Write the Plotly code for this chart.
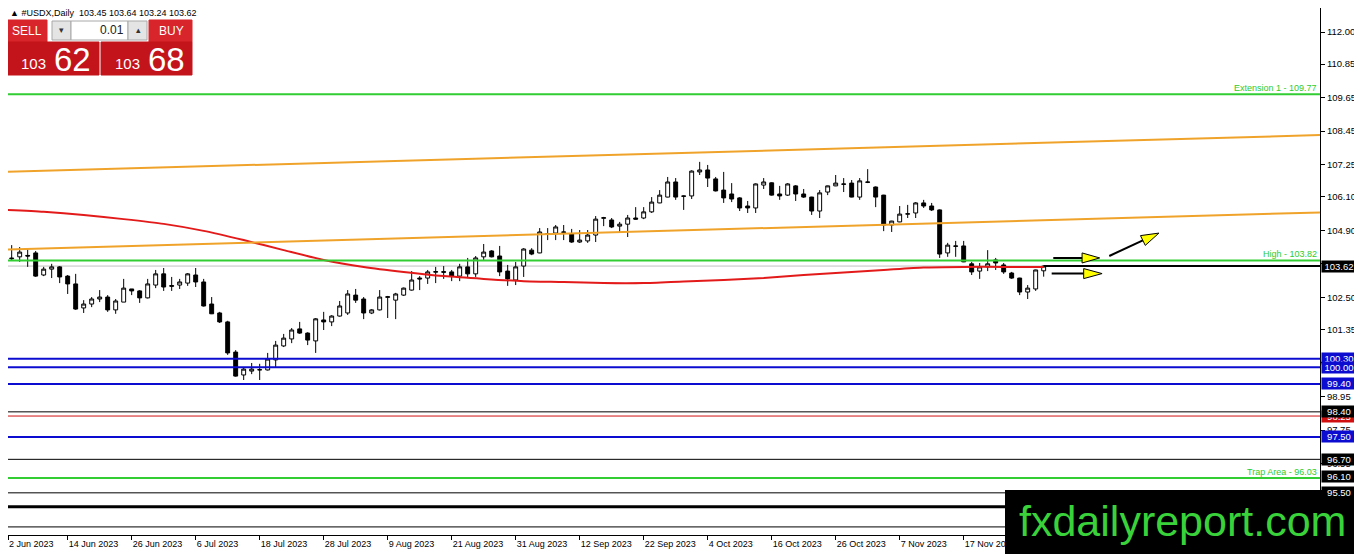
import pandas as pd
import plotly.graph_objects as go

# ---- data ----
dates = pd.bdate_range("2023-06-02", periods=131)

opens = [
    103.55, 103.88, 103.95, 104.00, 104.09, 103.30, 103.51, 103.59, 103.26, 102.98,
    102.12, 102.26, 102.44, 102.51, 102.05, 102.33, 102.80, 102.73, 102.48, 102.94,
    103.34, 102.92, 102.94, 103.01, 103.30, 103.05, 102.26, 101.94, 101.62, 100.54,
    99.72, 99.86, 99.90, 99.90, 100.26, 100.76, 101.01, 101.37, 101.22, 100.94,
    101.69, 101.62, 101.83, 101.94, 102.58, 102.44, 101.94, 102.05, 102.50, 102.40,
    102.58, 102.76, 103.19, 103.19, 103.40, 103.42, 103.41, 103.26, 103.59, 103.34,
    103.95, 104.16, 103.98, 103.44, 103.12, 103.62, 104.19, 104.09, 104.78, 104.80,
    104.84, 104.77, 104.48, 104.52, 104.73, 105.33, 105.27, 105.05, 105.12, 105.34,
    105.34, 105.56, 105.88, 106.09, 106.63, 106.13, 106.13, 106.99, 107.06, 106.74,
    106.34, 106.20, 106.06, 105.77, 105.70, 106.52, 106.60, 106.20, 106.16, 106.49,
    106.20, 106.09, 105.59, 106.27, 106.49, 106.56, 106.59, 106.09, 106.63, 106.45,
    106.16, 105.09, 105.20, 105.48, 105.52, 105.88, 105.77, 105.63, 104.09, 104.34,
    104.34, 103.70, 103.44, 103.59, 103.84, 103.66, 103.37, 103.19, 102.69, 102.80,
    103.45]
highs = [
    104.19, 104.37, 104.30, 104.26, 104.16, 103.59, 103.70, 103.62, 103.30, 103.34,
    102.40, 102.51, 102.76, 102.58, 102.44, 103.16, 102.80, 102.76, 103.16, 103.48,
    103.55, 103.23, 103.16, 103.37, 103.55, 103.16, 102.51, 101.98, 101.66, 100.61,
    99.97, 100.15, 100.12, 100.51, 100.94, 101.19, 101.40, 101.62, 101.25, 101.76,
    101.98, 101.86, 102.37, 102.76, 102.80, 102.51, 102.08, 102.76, 102.55, 102.66,
    102.85, 103.44, 103.26, 103.48, 103.59, 103.62, 103.48, 103.70, 103.91, 103.98,
    104.41, 104.19, 104.34, 103.66, 103.77, 104.26, 104.26, 104.98, 104.98, 105.09,
    105.09, 104.95, 104.91, 104.91, 105.41, 105.38, 105.34, 105.20, 105.45, 105.73,
    105.73, 106.09, 106.34, 106.81, 106.77, 106.15, 107.05, 107.35, 107.24, 106.81,
    106.99, 106.59, 106.09, 105.95, 106.58, 106.77, 106.62, 106.49, 106.59, 106.52,
    106.38, 106.10, 106.34, 106.50, 106.88, 106.77, 106.70, 106.77, 107.09, 106.47,
    106.17, 105.24, 105.77, 105.81, 105.91, 105.99, 105.88, 105.65, 104.45, 104.52,
    104.52, 103.77, 103.73, 104.19, 103.91, 103.73, 103.41, 103.20, 102.94, 103.49,
    103.64]
lows = [
    103.33, 103.80, 103.77, 103.59, 103.23, 103.26, 103.19, 103.01, 102.62, 102.05,
    101.94, 102.15, 102.33, 101.98, 101.91, 102.33, 102.58, 102.30, 102.46, 102.83,
    102.73, 102.73, 102.80, 102.91, 102.87, 102.17, 101.90, 101.58, 100.44, 99.66,
    99.54, 99.75, 99.54, 99.88, 99.97, 100.72, 100.86, 101.19, 100.79, 100.51,
    101.33, 101.47, 101.81, 101.87, 102.30, 101.72, 101.90, 102.03, 101.76, 101.72,
    102.55, 102.74, 102.76, 102.98, 103.01, 103.16, 103.08, 103.08, 103.19, 103.23,
    103.84, 103.93, 103.26, 102.91, 102.94, 103.23, 104.01, 104.08, 104.55, 104.55,
    104.55, 104.45, 104.45, 104.45, 104.48, 105.05, 104.98, 104.84, 104.66, 105.29,
    105.30, 105.52, 105.87, 106.08, 105.99, 105.63, 106.02, 106.88, 106.45, 106.29,
    105.88, 105.91, 105.59, 105.52, 105.52, 106.38, 106.14, 105.99, 106.13, 105.95,
    106.06, 105.45, 105.34, 106.16, 106.48, 106.27, 106.08, 105.99, 106.59, 105.73,
    104.87, 104.84, 105.19, 105.34, 105.34, 105.70, 105.59, 103.91, 103.95, 103.95,
    103.76, 103.30, 103.16, 103.44, 103.48, 103.34, 103.16, 102.58, 102.44, 102.73,
    103.24]
closes = [
    104.02, 103.90, 104.12, 103.98, 103.26, 103.51, 103.59, 103.23, 102.98, 102.08,
    102.26, 102.44, 102.51, 102.05, 102.37, 102.83, 102.73, 102.48, 102.98, 103.34,
    102.87, 102.90, 103.05, 103.34, 103.05, 102.19, 101.91, 101.62, 100.51, 99.68,
    99.93, 99.93, 99.91, 100.29, 100.79, 101.04, 101.33, 101.22, 100.97, 101.73,
    101.62, 101.83, 102.19, 102.62, 102.40, 101.94, 102.05, 102.51, 102.52, 102.62,
    102.83, 103.12, 103.16, 103.41, 103.42, 103.40, 103.26, 103.59, 103.34, 103.91,
    104.12, 103.95, 103.41, 103.16, 103.59, 104.23, 104.05, 104.84, 104.77, 105.02,
    104.83, 104.48, 104.55, 104.73, 105.30, 105.35, 105.02, 105.12, 105.34, 105.30,
    105.56, 105.91, 106.16, 106.63, 106.09, 106.12, 107.02, 107.06, 106.77, 106.31,
    106.06, 106.02, 105.70, 105.70, 106.56, 106.63, 106.16, 106.13, 106.56, 106.20,
    106.09, 105.59, 106.24, 106.49, 106.59, 106.55, 106.09, 106.67, 106.62, 106.09,
    105.09, 105.23, 105.48, 105.49, 105.88, 105.77, 105.63, 104.05, 104.37, 104.33,
    103.77, 103.41, 103.59, 103.70, 103.73, 103.41, 103.19, 102.69, 102.83, 103.48,
    103.62]

# red moving average, one reading every 5 bars
ma_idx = list(range(0, 131, 5))
ma_vals = [105.63, 105.56, 105.45, 105.30, 105.13, 104.88, 104.55, 104.19, 103.84,
           103.59, 103.41, 103.26, 103.16, 103.08, 103.05, 103.01, 103.01, 103.07,
           103.12, 103.19, 103.30, 103.39, 103.48, 103.57, 103.59, 103.59, 103.59]

channel_upper = [106.99, 108.31]   # left edge, right edge
channel_lower = [104.21, 105.54]
green_levels = [109.77, 103.82, 96.03]
green_names = ["Extension 1 - 109.77", "High - 103.82", "Trap Area - 96.03"]
blue_levels = [100.30, 100.00, 99.40, 97.50]
black_levels = [98.40, 96.70, 95.50, 94.28]
black_boxes = [98.40, 96.70, 96.10, 95.50]
red_level = 98.25
thick_level = 95.00
spread = 0.06
price_ticks = [112.00, 110.85, 109.65, 108.45, 107.25, 106.10, 104.90, 103.70,
               102.50, 101.35, 100.15, 98.95, 97.75, 96.55, 95.40]

FONT = "Liberation Sans, Arial, sans-serif"
GREEN = "#32cd32"
BLUE = "#0c0cd0"

# page body has an 8px margin, so the figure sits at (8, 8) in the window
OFF = 8
FIG_W, FIG_H = 1362 - OFF, 554 - OFF
PLOT_L, PLOT_R, PLOT_T, PLOT_B = 8, 1320, 8, 535   # window pixels
XMIN, XMAX = 0.54, 164.54


def px(x):
    return (x - PLOT_L) / float(PLOT_R - PLOT_L)


def py(y):
    return (PLOT_B - y) / float(PLOT_B - PLOT_T)


bar_x = list(range(len(opens)))

fig = go.Figure()
fig.add_trace(go.Candlestick(
    x=bar_x, open=opens, high=highs, low=lows, close=closes,
    increasing=dict(line=dict(color="black", width=1), fillcolor="white"),
    decreasing=dict(line=dict(color="black", width=1), fillcolor="black"),
    whiskerwidth=0, hoverinfo="skip"))
fig.add_trace(go.Scatter(x=ma_idx, y=ma_vals, mode="lines",
                         line=dict(color="#e31a1a", width=2, shape="spline", smoothing=0.6),
                         hoverinfo="skip"))

shapes = []
annotations = []


def hline(level, color, width, x0=0, x1=1, xref="paper", layer="above"):
    shapes.append(dict(type="line", xref=xref, yref="y", x0=x0, x1=x1, y0=level, y1=level,
                       line=dict(color=color, width=width), layer=layer))


def price_box(level, text, bg):
    annotations.append(dict(xref="paper", yref="y", x=px(1321), y=level, xanchor="left",
                            yanchor="middle", text=text, showarrow=False, bgcolor=bg,
                            font=dict(family=FONT, size=9.5, color="white"),
                            width=34, height=11, borderpad=0))


# bid line
hline(closes[-1], "#c0c0c0", 1, layer="below")
hline(closes[-1], "black", 2, x0=bar_x[-1], x1=XMAX, xref="x")

# channel (x from left edge to right edge of the chart)
x_left = XMIN - (PLOT_L - 3) / 8.0
shapes.append(dict(type="line", xref="x", yref="y", x0=x_left, x1=XMAX,
                   y0=channel_upper[0], y1=channel_upper[1], line=dict(color="#f0a32a", width=2)))
shapes.append(dict(type="line", xref="x", yref="y", x0=x_left, x1=XMAX,
                   y0=channel_lower[0], y1=channel_lower[1], line=dict(color="#f0a32a", width=2)))

for lv, name in zip(green_levels, green_names):
    hline(lv, GREEN, 2)
    annotations.append(dict(xref="paper", yref="y", x=px(1319), y=lv, xanchor="right",
                            yanchor="bottom", text=name, showarrow=False, yshift=-1,
                            font=dict(family=FONT, size=9, color="#2ecc2e")))
for lv in blue_levels:
    hline(lv, BLUE, 2)
for lv in black_levels:
    hline(lv, "black", 1)
hline(red_level, "#d01010", 1)
hline(thick_level, "black", 3)

# arrows (yellow heads)
arrow_lines = [((131.2, 103.91), (135.3, 103.91)),
               ((131.0, 103.35), (135.0, 103.35)),
               ((138.2, 103.98), (142.8, 104.59))]
arrow_heads = [[(134.8, 104.09), (137.0, 103.91), (134.8, 103.73)],
               [(135.0, 103.53), (137.3, 103.35), (135.0, 103.17)],
               [(142.7, 104.36), (144.4, 104.80), (142.1, 104.71)]]
for (a, b) in arrow_lines:
    shapes.append(dict(type="line", xref="x", yref="y", x0=a[0], y0=a[1], x1=b[0], y1=b[1],
                       line=dict(color="black", width=2)))
for tri in arrow_heads:
    path = "M{},{} L{},{} L{},{} Z".format(tri[0][0], tri[0][1], tri[1][0], tri[1][1],
                                           tri[2][0], tri[2][1])
    shapes.append(dict(type="path", xref="x", yref="y", path=path, fillcolor="#ffff00",
                       line=dict(color="black", width=1)))

# right-axis price boxes
price_box(red_level, "%.2f" % red_level, "#d01010")
for lv in blue_levels:
    price_box(lv, "%.2f" % lv, BLUE)
for lv in black_boxes:
    price_box(lv, "%.2f" % lv, "black")
price_box(closes[-1], "%.2f" % closes[-1], "black")

# header
annotations.append(dict(xref="paper", yref="paper", x=px(8), y=py(13), xanchor="left",
                        yanchor="middle", showarrow=False,
                        text="▲ #USDX,Daily  %.2f %.2f %.2f %.2f" % (opens[-1], highs[-1], lows[-1], closes[-1]),
                        font=dict(family=FONT, size=9, color="black")))

# one-click trading panel


def rect(x0, y0, x1, y1, fill, line=None):
    shapes.append(dict(type="rect", xref="paper", yref="paper", x0=px(x0), x1=px(x1),
                       y0=py(y1), y1=py(y0), fillcolor=fill,
                       line=dict(color=line or fill, width=1)))


def label(x, y, text, size, color="white", anchor="center"):
    annotations.append(dict(xref="paper", yref="paper", x=px(x), y=py(y), xanchor=anchor,
                            yanchor="middle", text=text, showarrow=False,
                            font=dict(family=FONT, size=size, color=color)))


rect(7, 20, 47, 42, "#d8252b")
rect(149, 20, 192, 42, "#d8252b")
rect(52, 21, 71, 40, "#e4e4e4", "#a8a8a8")
rect(71, 21, 128, 40, "white", "#a8a8a8")
rect(128, 21, 147, 40, "#e4e4e4", "#a8a8a8")
rect(7, 42, 99, 75, "#c3141b")
rect(101, 42, 192, 75, "#c3141b")
label(27, 31, "SELL", 12)
label(171, 31, "BUY", 12)
label(61, 30, "▾", 9, "#333333")
label(138, 30, "▴", 9, "#333333")
label(126, 30, "0.01", 12, "#222222", "right")
bid = closes[-1]
ask = bid + spread
label(48, 64, "%d" % int(bid), 15, anchor="right")
label(52, 59, "%02d" % round((bid % 1) * 100), 33, anchor="left")
label(142, 64, "%d" % int(ask), 15, anchor="right")
label(146, 59, "%02d" % round((ask % 1) * 100), 33, anchor="left")

# watermark
shapes.append(dict(type="rect", xref="paper", yref="paper", x0=px(1005), x1=px(1365),
                   y0=py(558), y1=py(490), fillcolor="black", line=dict(color="black", width=0)))
annotations.append(dict(xref="paper", yref="paper", x=px(1182), y=py(521), xanchor="center",
                        yanchor="middle", text="fxdailyreport.com", showarrow=False,
                        font=dict(family=FONT, size=43, color="#3ad23a")))

# date ticks every 8 bars; the first bar sits just left of the visible edge
tick_idx = list(range(0, len(dates), 8))
tick_txt = ["%d %s" % (dates[i].day, dates[i].strftime("%b %Y")) for i in tick_idx]
tick_pos = [max(i, XMIN + 0.01) for i in tick_idx]

y_top = 112.0 + (32 - PLOT_T) / 27.93
y_bot = 112.0 - (PLOT_B - 32) / 27.93

fig.update_layout(
    width=FIG_W, height=FIG_H,
    margin=dict(l=PLOT_L - OFF, r=FIG_W - (PLOT_R - OFF), t=PLOT_T - OFF, b=FIG_H - (PLOT_B - OFF)),
    paper_bgcolor="white", plot_bgcolor="white",
    showlegend=False,
    shapes=shapes, annotations=annotations,
    xaxis=dict(range=[XMIN, XMAX], tickvals=tick_pos, ticktext=tick_txt,
               showgrid=False, zeroline=False, showline=True, mirror=True,
               linecolor="black", linewidth=1, ticks="outside", ticklen=4,
               tickcolor="black", ticklabelposition="outside right",
               tickfont=dict(family=FONT, size=9, color="black"),
               rangeslider=dict(visible=False), fixedrange=True),
    yaxis=dict(range=[y_bot, y_top], side="right", tickvals=price_ticks,
               ticktext=["%.2f" % t for t in price_ticks],
               showgrid=False, zeroline=False, showline=True, mirror=True,
               linecolor="black", linewidth=1, ticks="outside", ticklen=4,
               tickcolor="black", tickfont=dict(family=FONT, size=9.5, color="black")),
)

fig.write_html("out.html")
